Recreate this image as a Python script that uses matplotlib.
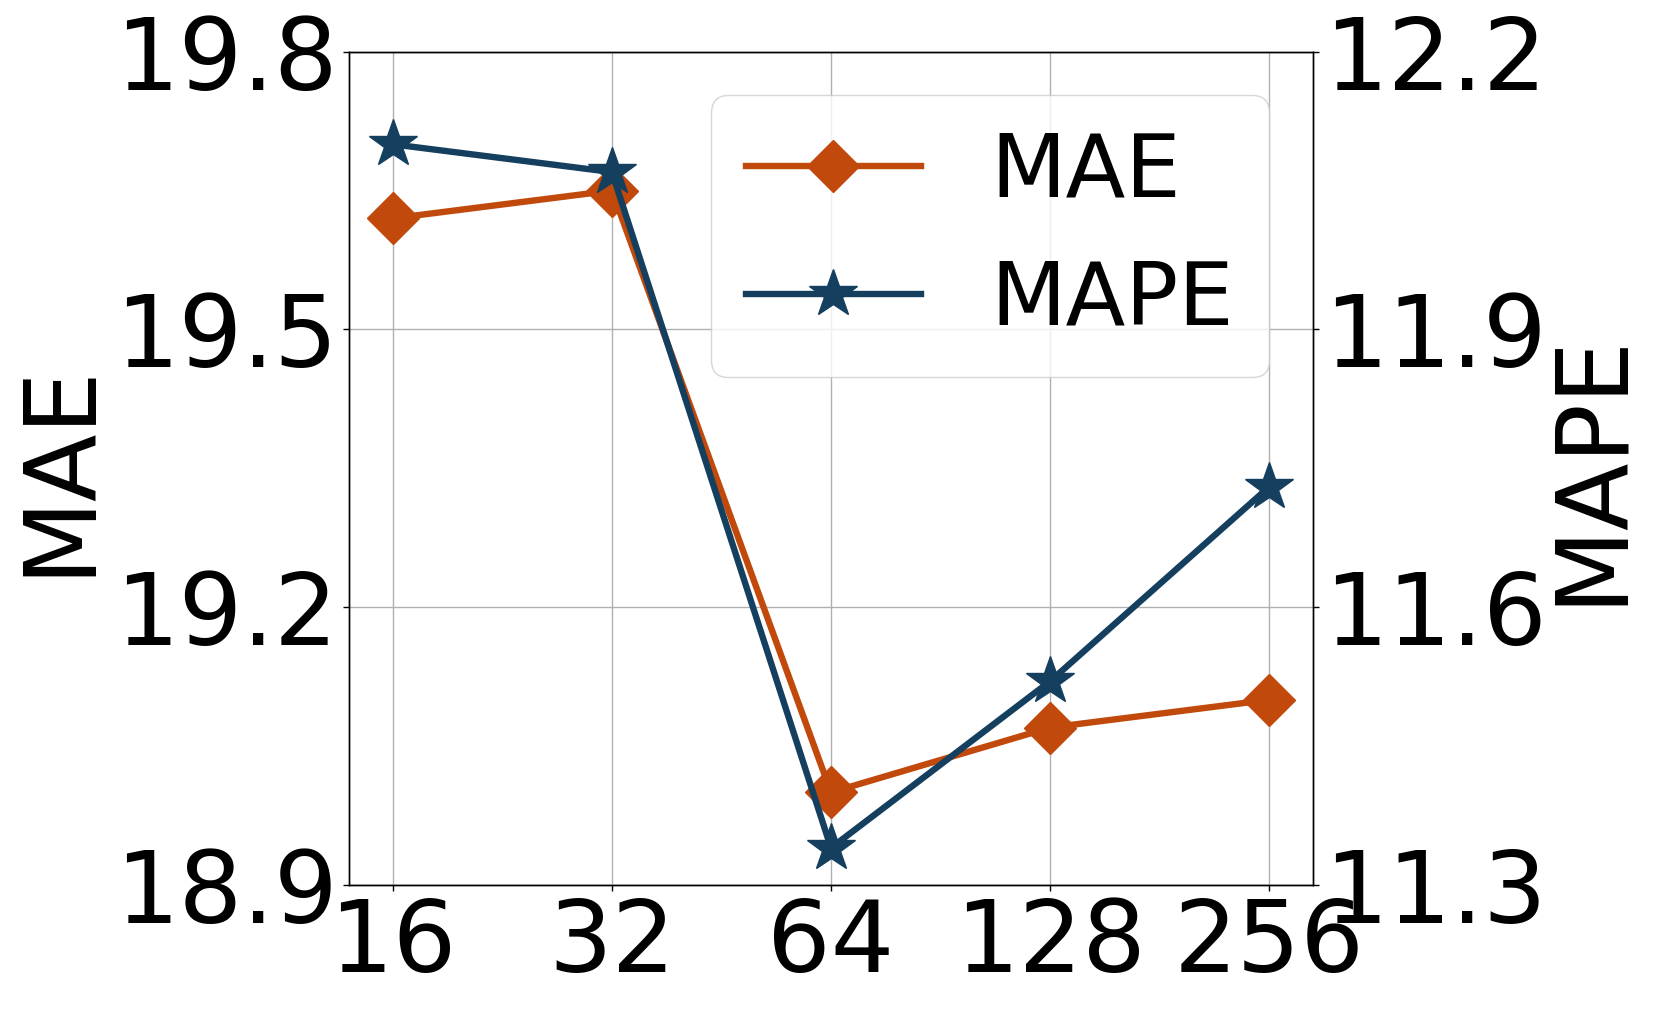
import numpy as np
import matplotlib
matplotlib.use('Agg')
from matplotlib import pyplot as plt

batch_sizes = ['16', '32', '64', '128', '256']
mae = [19.62, 19.65, 19.00, 19.07, 19.10]
mape = [12.10, 12.07, 11.34, 11.52, 11.73]
mae_ticks = [18.9, 19.2, 19.5, 19.8]
mape_ticks = [11.3, 11.6, 11.9, 12.2]

c_mae = '#c0490b'
c_mape = '#153f5f'

plt.rcParams['font.family'] = 'DejaVu Sans'

fig = plt.figure(figsize=(16.61, 10.1), dpi=100)
ax = fig.add_axes([0.2101, 0.1238, 0.5804, 0.825])
x = np.arange(len(batch_sizes))

l1, = ax.plot(x, mae, color=c_mae, marker='D', markersize=26.5, linewidth=4.6, label='MAE')
ax.set_ylim(18.9, 19.8)
ax.set_yticks(mae_ticks)
ax.set_yticklabels(['{:.1f}'.format(t) for t in mae_ticks])
ax.set_xlim(-0.2, 4.2)
ax.set_xticks(x)
ax.set_xticklabels(batch_sizes)
ax.grid(True, color='#b0b0b0', linewidth=1.0)
ax.set_axisbelow(True)
ax.tick_params(labelsize=72, length=4.5, width=1.0)
ax.set_ylabel('MAE', fontsize=71, labelpad=5)

ax2 = ax.twinx()
l2, = ax2.plot(x, mape, color=c_mape, marker='*', markersize=36, linewidth=4.6, label='MAPE')
ax2.set_ylim(11.3, 12.2)
ax2.set_yticks(mape_ticks)
ax2.set_yticklabels(['{:.1f}'.format(t) for t in mape_ticks])
ax2.tick_params(labelsize=72, length=4.5, width=1.0)
ax2.set_ylabel('MAPE', fontsize=71, labelpad=-3)

for a in (ax, ax2):
    for s in a.spines.values():
        s.set_linewidth(1.0)

ax2.legend([l1, l2], ['MAE', 'MAPE'], fontsize=63, loc='upper right')

plt.savefig('out.png', dpi=100)
